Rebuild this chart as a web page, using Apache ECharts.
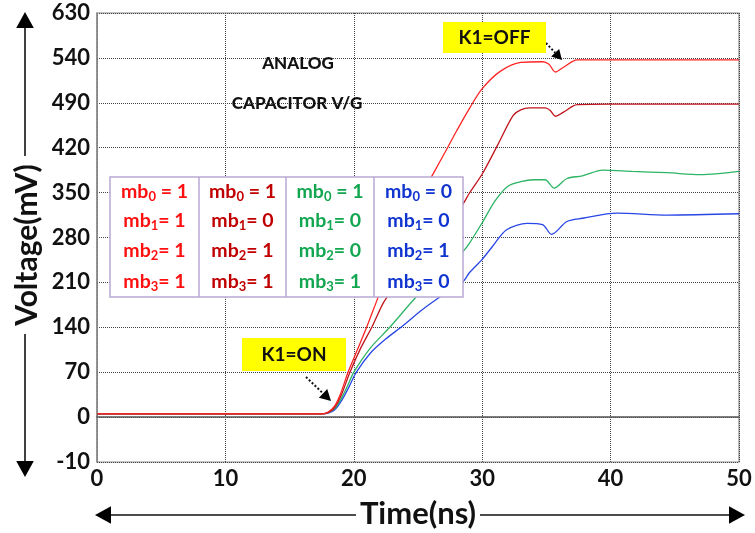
<!DOCTYPE html>
<html><head><meta charset="utf-8">
<script src="https://cdn.jsdelivr.net/npm/echarts@6/dist/echarts.min.js"></script>
<style>html,body{margin:0;padding:0;background:#fff}#c{width:755px;height:533px}</style>
</head><body><div id="c"></div>
<script>
// ---- data ----
const xTicks = [0, 10, 20, 30, 40, 50];
const yTickValues = [-70, 0, 70, 140, 210, 280, 350, 420, 490, 560, 630];
const yTickLabels = ['-10', '0', '70', '140', '210', '280', '350', '420', '490', '540', '630'];

const redT   = [0, 17.5, 18, 18.5, 19, 19.55, 20.3, 21, 21.8, 22.6, 23.5, 24.5, 25.5, 26.2, 27.3, 28, 29, 30, 31.4, 33, 34.7, 35.2, 35.7, 36.3, 37.4, 40, 50];
const redV   = [5, 5, 8, 17, 38, 70, 106, 140, 182, 224, 270, 316, 355, 380, 420, 446, 481, 512, 539, 553, 554, 550, 538, 545, 557, 557, 557];

const dredT  = [0, 17.5, 18, 18.5, 19, 19.7, 20.5, 21.4, 22.3, 23, 24, 25, 26, 27, 28, 28.5, 29, 30, 31.2, 32.4, 33, 33.7, 34.9, 35.3, 35.7, 36.3, 37.4, 40, 50];
const dredV  = [5, 5, 7, 15, 33, 70, 106, 140, 178, 198, 224, 248, 271, 294, 318, 332, 349, 379, 424, 470, 479, 482, 482, 478, 469, 475, 487, 488, 488];

const greenT = [0, 17.5, 18, 18.5, 19, 19.5, 20.0, 21.3, 22.8, 24.8, 26, 27, 28, 28.5, 29, 30, 31, 32, 33, 34, 34.9, 35.6, 36.6, 37.8, 39.4, 41.7, 44.4, 47, 50];
const greenV = [5, 5, 7, 13, 28, 48, 70, 108, 140, 186, 210, 230, 248, 258, 271, 303, 337, 360, 367, 370, 370, 357, 372, 376, 385, 383, 381, 378, 383];

const blueT  = [0, 17.5, 18, 18.5, 19, 19.6, 20.2, 21.3, 22.5, 23.8, 25.3, 26.9, 28.5, 29, 30, 30.8, 31.9, 33.5, 34.7, 35.4, 36.6, 37.8, 40.5, 44.4, 50];
const blueV  = [5, 5, 6, 11, 24, 46, 70, 100, 122, 142, 167, 190, 211, 225, 246, 266, 292, 302, 300, 285, 305, 310, 318, 315, 317];

const seriesNames  = ['mb=1111', 'mb=1011', 'mb=1001', 'mb=0100'];
const seriesColors = ['#ff2424', '#c0141c', '#2db464', '#2846e6'];
const seriesData   = [[redT, redV], [dredT, dredV], [greenT, greenV], [blueT, blueV]];

const legendBits = [[1,1,1,1],[1,0,1,1],[1,0,0,1],[0,0,1,0]];
const legendColors = ['#ff1010', '#c00000', '#12a650', '#1034d0'];

// ---- chart ----
const FONT = 'Lato';
const chart = echarts.init(document.getElementById('c'));

const G = {left: 97, right: 16, top: 13, bottom: 71};

function mkArrow(x1, y1, x2, y2, head, dashed) {
  const ang = Math.atan2(y2 - y1, x2 - x1);
  const bx = x2 - head * Math.cos(ang), by = y2 - head * Math.sin(ang);
  const w = head * 0.55;
  const px = -Math.sin(ang) * w, py = Math.cos(ang) * w;
  return [
    {type: 'line', shape: {x1: x1, y1: y1, x2: bx, y2: by},
     style: {stroke: '#111', lineWidth: dashed ? 2 : 1.6, lineDash: dashed ? [2, 2] : null}, z: 20},
    {type: 'polygon', shape: {points: [[x2, y2], [bx + px, by + py], [bx - px, by - py]]},
     style: {fill: '#000'}, z: 20}
  ];
}
function txt(x, y, s, size, rot, weight) {
  return {type: 'text', x: x, y: y, z: 26, rotation: rot || 0,
    style: {text: s, align: 'center', verticalAlign: 'middle', fontFamily: FONT, fontWeight: weight || 'bold',
      fontSize: size, fill: '#111'}};
}

const graphics = [];
// legend table
const tbl = {x: 110, y: 177, w: 353, h: 120};
const colX = [110, 199, 286, 374, 463];
graphics.push({type: 'rect', shape: {x: tbl.x, y: tbl.y, width: tbl.w, height: tbl.h},
  style: {fill: '#fff', stroke: '#b9a9d3', lineWidth: 1.5}, z: 30});
for (let i = 1; i < 4; i++) {
  graphics.push({type: 'line', shape: {x1: colX[i], y1: tbl.y, x2: colX[i], y2: tbl.y + tbl.h},
    style: {stroke: '#b9a9d3', lineWidth: 1.5}, z: 31});
}
const rowY = [192, 221, 251, 282];
for (let c = 0; c < 4; c++) {
  for (let r = 0; r < 4; r++) {
    graphics.push({type: 'text', x: (colX[c] + colX[c + 1]) / 2, y: rowY[r], z: 32,
      style: {text: '{a|mb}{s|' + r + '}{a|' + (r === 0 ? ' = ' : '= ') + legendBits[c][r] + '}',
        align: 'center', verticalAlign: 'middle',
        rich: {
          a: {fontFamily: FONT, fontWeight: 'bold', fontSize: 19.5, fill: legendColors[c], lineHeight: 22},
          s: {fontFamily: FONT, fontWeight: 'bold', fontSize: 13, fill: legendColors[c], lineHeight: 14, verticalAlign: 'bottom'}
        }}});
  }
}
// analog labels
graphics.push(txt(298, 64, 'ANALOG', 17, 0, 900));
graphics.push(txt(297, 104, 'CAPACITOR V/G', 17, 0, 900));
// K1 boxes
graphics.push({type: 'rect', shape: {x: 443, y: 22, width: 103, height: 31}, style: {fill: '#ffff00'}, z: 25});
graphics.push(txt(494.5, 38, 'K1=OFF', 19));
graphics.push({type: 'rect', shape: {x: 242, y: 338, width: 104, height: 33}, style: {fill: '#ffff00'}, z: 25});
graphics.push(txt(294, 355, 'K1=ON', 19));
graphics.push(...mkArrow(546, 43, 562, 60, 10, true));
graphics.push(...mkArrow(306, 377, 331, 401, 11, true));
// axis titles and big arrows
graphics.push(txt(27, 245, 'Voltage(mV)', 30, Math.PI / 2));
graphics.push(...mkArrow(25, 156, 25, 12, 16, false));
graphics.push(...mkArrow(25, 334, 25, 477, 16, false));
graphics.push(txt(418, 514, 'Time(ns)', 31));
graphics.push(...mkArrow(356, 515, 95, 515, 16, false));
graphics.push(...mkArrow(480, 515, 745, 515, 16, false));

chart.setOption({
  animation: false,
  grid: {left: G.left, right: G.right, top: G.top, bottom: G.bottom, show: true, borderColor: '#8a8a8a', borderWidth: 1.2},
  xAxis: {type: 'value', min: 0, max: 50, interval: 10,
    axisLine: {show: true, lineStyle: {color: '#555', width: 1.5}}, axisTick: {show: false},
    axisLabel: {fontFamily: FONT, fontWeight: 'bold', fontSize: 22, color: '#111', margin: 6,
      formatter: v => xTicks.indexOf(v) >= 0 ? String(v) : ''},
    splitLine: {show: true, lineStyle: {type: 'dotted', color: '#444', width: 1}}},
  yAxis: {type: 'value', min: -70, max: 630, interval: 70,
    axisLine: {show: true, lineStyle: {color: '#8a8a8a', width: 1.5}}, axisTick: {show: false},
    axisLabel: {fontFamily: FONT, fontWeight: 'bold', fontSize: 22, color: '#111', margin: 7,
      formatter: v => { const i = yTickValues.indexOf(v); return i >= 0 ? yTickLabels[i] : ''; }},
    splitLine: {show: true, lineStyle: {type: 'dotted', color: '#444', width: 1}}},
  series: seriesData.map((d, i) => ({
    name: seriesNames[i], type: 'line', smooth: 0.3, symbol: 'none', z: 5 - i,
    lineStyle: {color: seriesColors[i], width: 1.3},
    data: d[0].map((t, k) => [t, d[1][k]])
  })),
  graphic: graphics
});
</script></body></html>
